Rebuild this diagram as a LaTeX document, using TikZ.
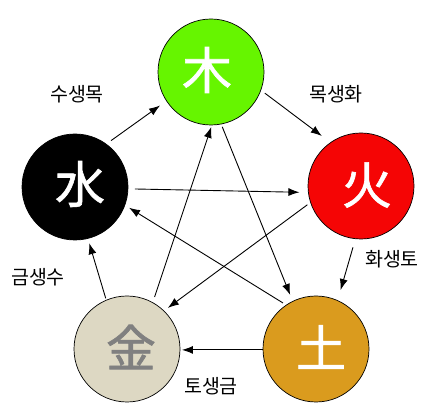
\documentclass[tikz,border=0pt]{standalone}
\usepackage{fontspec}
\newfontfamily\kr{Noto Sans CJK KR}
\newfontfamily\krg[FakeBold=1.2]{Noto Sans CJK KR}
\usetikzlibrary{arrows.meta}
\definecolor{woodc}{RGB}{102,245,0}
\definecolor{firec}{RGB}{245,5,5}
\definecolor{earthc}{RGB}{218,155,30}
\definecolor{metalc}{RGB}{221,216,195}
\definecolor{metaltxt}{RGB}{128,128,128}
\begin{document}
\begin{tikzpicture}[x=1pt,y=-1pt,
  elem/.style={circle,draw=black,line width=0.7pt,minimum size=106pt,inner sep=0pt,outer sep=0pt},
  glyph/.style={inner sep=0pt,font=\krg\fontsize{50}{50}\selectfont,text=white},
  lbl/.style={inner sep=0pt,font=\kr\fontsize{19.5}{19.5}\selectfont},
  arr/.style={line width=0.9pt,-{Latex[length=11pt,width=8pt]}}]
\useasboundingbox[fill=white] (0,0) rectangle (429,414);
\node[elem,fill=woodc] (wd) at (211,72) {};
\node[elem,fill=firec] (fi) at (361,186) {};
\node[elem,fill=earthc] (ea) at (316,349) {};
\node[elem,fill=metalc] (me) at (127,349) {};
\node[elem,fill=black] (wa) at (75,187) {};
\node[glyph] (gwd) at (207,70) {木};
\node[glyph] (gfi) at (367,185) {火};
\node[glyph] (gea) at (321,347) {土};
\node[glyph,text=metaltxt] (gme) at (131,347) {金};
\node[glyph] (gwa) at (80,184) {水};
\node[lbl] (l1) at (77,94) {수생목};
\node[lbl] (l2) at (336,94) {목생화};
\node[lbl] (l3) at (392,259) {화생토};
\node[lbl] (l4) at (211,386) {토생금};
\node[lbl] (l5) at (38,277) {금생수};
% generating cycle
\draw[arr,shorten <=6pt,shorten >=8pt] (wa.54) -- (wd.213);
\draw[arr,shorten <=5pt,shorten >=11pt] (wd.340) -- (fi.125);
\draw[arr,shorten <=9pt,shorten >=11pt] (fi.264) -- (ea.66);
\draw[arr,shorten <=0pt,shorten >=2pt] (ea.181) -- (me.359);
\draw[arr,shorten <=2pt,shorten >=5pt] (me.113) -- (wa.284);
% controlling cycle
\draw[arr,shorten <=3pt,shorten >=7pt] (wd.281) -- (ea.116);
\draw[arr,shorten <=4pt,shorten >=5pt] (ea.124) -- (wa.340);
\draw[arr,shorten <=7pt,shorten >=9pt] (wa.358) -- (fi.187);
\draw[arr,shorten <=4pt,shorten >=5pt] (fi.198) -- (me.46);
\draw[arr,shorten <=6pt,shorten >=2pt] (me.61) -- (wd.271);
\end{tikzpicture}
\end{document}
